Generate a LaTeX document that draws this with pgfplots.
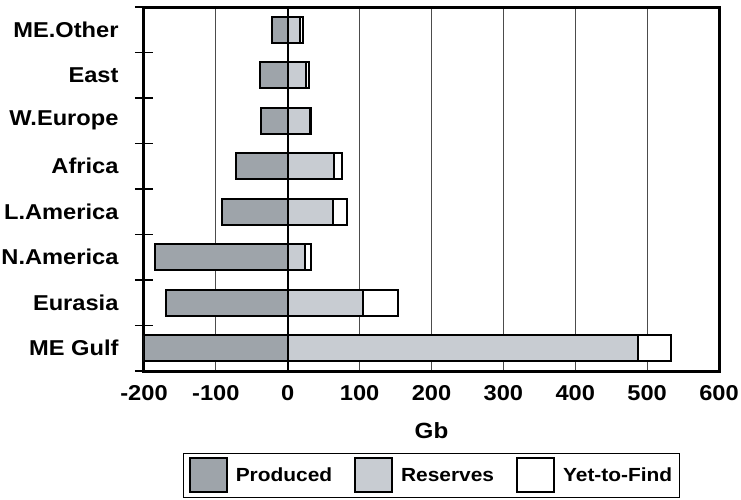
\documentclass[border=0pt]{standalone}
\usepackage{pgfplots}
\pgfplotsset{compat=1.18}
\usepackage{fontspec}
\setmainfont[FakeStretch=1.1]{Liberation Sans}
\definecolor{prodc}{RGB}{158,164,170}
\definecolor{resc}{RGB}{200,204,210}
\begin{document}
\begin{tikzpicture}
\useasboundingbox (-144pt,-128pt) rectangle (597pt,371pt);
\begin{axis}[
  scale only axis,
  width=575pt, height=364pt,
  at={(0pt,0pt)}, anchor=south west,
  xmin=-200, xmax=600, ymin=-0.5, ymax=7.5,
  xtick={-200,-100,...,600},
  xticklabels={{-200},{-100},0,100,200,300,400,500,600},
  ytick={0,...,7},
  yticklabels={ME Gulf,Eurasia,N.America,L.America,Africa,W.Europe,East,ME.Other},
  minor ytick={-0.5,0.5,...,7.5},
  ytick pos=left, xtick pos=bottom,
  major tick length=0pt,
  minor tick length=18pt,
  tick align=center,
  minor tick style={line width=1.2pt, black},
  axis line style={line width=3pt},
  xmajorgrids,
  grid style={line width=1pt, black!70},
  extra x ticks={0},
  extra x tick labels={},
  extra x tick style={grid style={black, line width=1.6pt}},
  ticklabel style={font=\fontsize{21.5}{26}\selectfont\bfseries},
  xticklabel style={yshift=-11pt},
  yticklabel style={xshift=-22pt},
  xlabel={Gb},
  xlabel style={font=\fontsize{22}{26}\selectfont\bfseries, at={(axis description cs:0.5,-0.163)}, anchor=center},
  legend columns=3,
  legend image code/.code={\draw[#1, line width=2pt] (0pt,-17pt) rectangle (37pt,17pt);},
  legend style={at={(axis description cs:0.5,-0.225)}, anchor=north,
    draw=black, line width=1pt, fill=white,
    font=\fontsize{19}{23}\selectfont\bfseries,
    inner xsep=5pt, inner ysep=4pt,
    /tikz/every odd column/.append style={column sep=6pt},
    /tikz/every even column/.append style={column sep=20pt}},
  legend cell align=left,
]
\addplot[xbar, bar shift=0pt, bar width=26pt, fill=prodc, draw=black, line width=2pt, forget plot]
  coordinates {(-200,0) (-169,1) (-184,2) (-92,3) (-72,4) (-37,5) (-38,6) (-22,7)};
\addplot[xbar, bar shift=0pt, bar width=26pt, fill=white, draw=black, line width=2pt, forget plot]
  coordinates {(533,0) (154,1) (32,2) (82,3) (76,4) (33,5) (30,6) (21,7)};
\addplot[xbar, bar shift=0pt, bar width=26pt, fill=resc, draw=black, line width=2pt, forget plot]
  coordinates {(487,0) (105,1) (24,2) (63,3) (65,4) (31,5) (25,6) (17,7)};
\addlegendimage{fill=prodc, draw=black}
\addlegendentry{Produced}
\addlegendimage{fill=resc, draw=black}
\addlegendentry{Reserves}
\addlegendimage{fill=white, draw=black}
\addlegendentry{Yet-to-Find}
\end{axis}
\end{tikzpicture}
\end{document}
